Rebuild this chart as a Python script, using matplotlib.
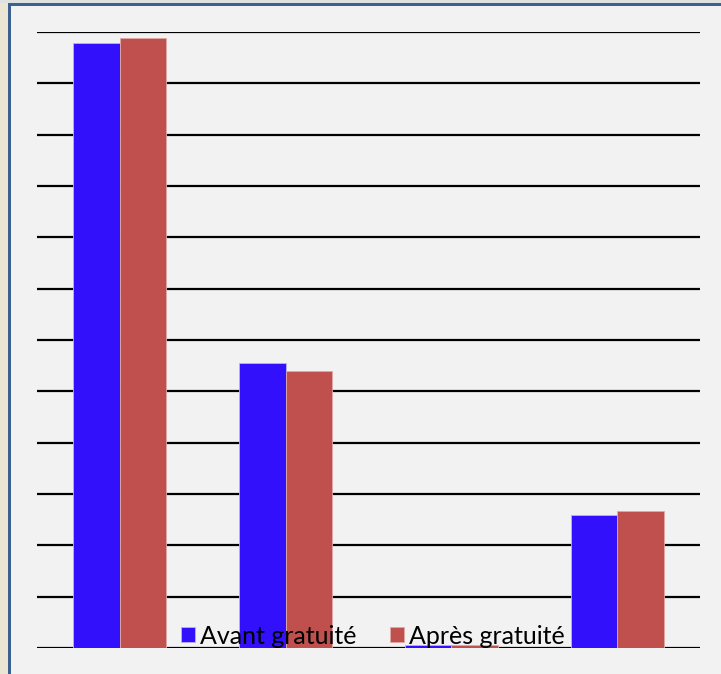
import numpy as np
import matplotlib
matplotlib.use("Agg")
import matplotlib.pyplot as plt
from matplotlib.patches import Rectangle

# data (grid step = 100)
categories = ["A", "B", "C", "D"]
avant = [1178, 555, 5, 260]
apres = [1188, 540, 5, 266]
series_names = ["Avant gratuité", "Après gratuité"]
colors = ["#3210fc", "#c0504d"]

W, H = 721, 674
fig = plt.figure(figsize=(W / 100, H / 100), dpi=100)
fig.patch.set_facecolor("#f2f2f2")

# frame around the panel
fig.patches.append(Rectangle((0, 0), 8 / W, 1, transform=fig.transFigure,
                             facecolor="#ebe6d4", edgecolor="none", zorder=0))
fig.patches.append(Rectangle((0, 1 - 3 / H), 1, 3 / H, transform=fig.transFigure,
                             facecolor="#dde2e0", edgecolor="none", zorder=0))
fig.patches.append(Rectangle((8 / W, 0), 3 / W, 1 - 3 / H, transform=fig.transFigure,
                             facecolor="#3c6190", edgecolor="none", zorder=1))
fig.patches.append(Rectangle((8 / W, 1 - 6 / H), 1 - 8 / W, 3 / H, transform=fig.transFigure,
                             facecolor="#3c6190", edgecolor="none", zorder=1))

ax = fig.add_axes([37 / W, 1 - 648 / H, 663 / W, 616 / H])
ax.set_facecolor("none")

x = np.arange(len(categories))
w = 0.28
ax.bar(x - w / 2, avant, width=w, color=colors[0], label=series_names[0],
       edgecolor="#b9b3f5", linewidth=0.6, zorder=3)
ax.bar(x + w / 2, apres, width=w, color=colors[1], label=series_names[1],
       edgecolor="#e0a9a7", linewidth=0.6, zorder=3)

ax.set_xlim(-0.5, len(categories) - 0.5)
ax.set_ylim(0, 1200)
ax.set_yticks(np.arange(0, 1201, 100))
ax.yaxis.grid(True, color="black", linewidth=1.6)
ax.set_axisbelow(True)
ax.tick_params(left=False, bottom=False, labelleft=False, labelbottom=False)
for s in ax.spines.values():
    s.set_visible(False)

leg = ax.legend(loc="center", bbox_to_anchor=(373 / W, 1 - 636 / H),
                bbox_transform=fig.transFigure, ncol=2, frameon=False,
                prop={"family": "Lato", "size": 18},
                handlelength=0.56, handleheight=0.56, handletextpad=0.2,
                columnspacing=1.35, borderaxespad=0, borderpad=0)
leg.set_zorder(5)

fig.savefig("out.png", dpi=100, facecolor=fig.get_facecolor())
